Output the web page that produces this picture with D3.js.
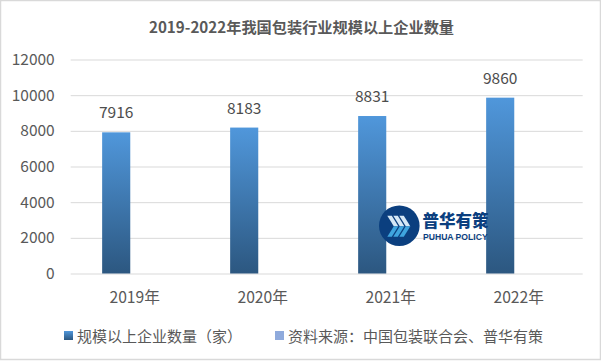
<!DOCTYPE html>
<html>
<head>
<meta charset="utf-8">
<script src="https://cdn.jsdelivr.net/npm/d3@7"></script>
<style>
  html, body { margin: 0; padding: 0; background: #fff; }
  svg { display: block; }
  text { font-family: "Noto Sans CJK SC", "Noto Sans", sans-serif; }
</style>
</head>
<body>
<div id="chart"></div>
<script>
var title = '2019-2022年我国包装行业规模以上企业数量';
var categories = ['2019年', '2020年', '2021年', '2022年'];
var seriesNames = ['规模以上企业数量（家）', '资料来源：中国包装联合会、普华有策'];
var companies = [7916, 8183, 8831, 9860];
var yTicks = [0, 2000, 4000, 6000, 8000, 10000, 12000];

var width = 601, height = 361;
var margin = { top: 59.5, right: 18.3, bottom: 87.5, left: 70.7 };

var svg = d3.select('#chart').append('svg')
  .attr('width', width)
  .attr('height', height);

var defs = svg.append('defs');
var grad = defs.append('linearGradient')
  .attr('id', 'barFill')
  .attr('x1', 0).attr('y1', 0).attr('x2', 0).attr('y2', 1);
grad.append('stop').attr('offset', '0%').attr('stop-color', '#5097db');
grad.append('stop').attr('offset', '100%').attr('stop-color', '#2c5780');

// outer frame
svg.append('rect')
  .attr('x', 0.5).attr('y', 0.5)
  .attr('width', width - 1).attr('height', height - 2)
  .attr('fill', '#fff')
  .attr('stroke', '#d9d9d9')
  .attr('stroke-width', 1.5);

var x = d3.scaleBand()
  .domain(categories)
  .range([margin.left, width - margin.right]);

// second series has no values, it only holds its slot and legend entry
var x1 = d3.scaleBand()
  .domain(seriesNames)
  .range([0, x.bandwidth()])
  .paddingInner(0.24)
  .paddingOuter(0.85);

var y = d3.scaleLinear()
  .domain([0, 12000])
  .range([height - margin.bottom, margin.top]);

svg.append('text')
  .attr('x', 301.5)
  .attr('y', 32.5)
  .attr('text-anchor', 'middle')
  .attr('font-size', 15.2)
  .attr('font-weight', 700)
  .attr('fill', '#595959')
  .text(title);

var yAxis = svg.append('g')
  .attr('transform', 'translate(' + margin.left + ',0)')
  .call(d3.axisLeft(y).tickValues(yTicks).tickFormat(d3.format('d'))
    .tickSize(-(width - margin.left - margin.right)).tickPadding(16));
yAxis.select('.domain').remove();
yAxis.selectAll('line').attr('stroke', '#d9d9d9').attr('stroke-width', 1);
yAxis.selectAll('text')
  .attr('font-size', 15.5)
  .attr('fill', '#595959')
  .style('font-family', '"Noto Sans CJK SC", sans-serif');

var xAxis = svg.append('g')
  .attr('transform', 'translate(0,' + (height - margin.bottom) + ')')
  .call(d3.axisBottom(x).tickSize(0).tickPadding(18));
xAxis.select('.domain').remove();
xAxis.selectAll('text')
  .attr('font-size', 15.7)
  .attr('fill', '#595959')
  .style('font-family', '"Noto Sans CJK SC", sans-serif');

svg.selectAll('.bar')
  .data(companies)
  .enter().append('rect')
  .attr('class', 'bar')
  .attr('x', function (d, i) { return x(categories[i]) + x1(seriesNames[0]); })
  .attr('width', x1.bandwidth())
  .attr('y', function (d) { return y(d); })
  .attr('height', function (d) { return y(0) - y(d); })
  .attr('fill', 'url(#barFill)');

svg.selectAll('.bar-label')
  .data(companies)
  .enter().append('text')
  .attr('class', 'bar-label')
  .attr('text-anchor', 'middle')
  .attr('x', function (d, i) { return x(categories[i]) + x1(seriesNames[0]) + x1.bandwidth() / 2; })
  .attr('y', function (d) { return y(d) - 14; })
  .attr('font-size', 15.5)
  .attr('fill', '#4d4d4d')
  .text(function (d) { return d; });

// legend
var legendX = [64, 275];
var legendFill = ['url(#barFill)', '#8faadc'];
var legend = svg.selectAll('.legend')
  .data(seriesNames)
  .enter().append('g')
  .attr('class', 'legend')
  .attr('transform', function (d, i) { return 'translate(' + legendX[i] + ',331)'; });
legend.append('rect')
  .attr('width', 9).attr('height', 9)
  .attr('fill', function (d, i) { return legendFill[i]; });
legend.append('text')
  .attr('x', 13)
  .attr('y', 11)
  .attr('font-size', 15)
  .attr('fill', '#595959')
  .text(function (d) { return d; });

// watermark logo
var logo = svg.append('g').attr('transform', 'translate(399.3,225.7)');
logo.append('circle').attr('r', 20.3).attr('fill', '#0b3f7f');
[-12, -6, 0].forEach(function (dx) {
  logo.append('path')
    .attr('d', 'M' + dx + ',-10l4.5,0l6.5,10.5l-4.5,0z')
    .attr('fill', '#d5e8f6');
  logo.append('path')
    .attr('d', 'M' + (dx + 6.5) + ',0.5l4.5,0l-6.5,10.5l-4.5,0z')
    .attr('fill', '#3fa5df');
});
svg.append('text')
  .attr('x', 422.5).attr('y', 227)
  .attr('font-size', 16.5)
  .attr('font-weight', 900)
  .attr('fill', '#0b3f7f')
  .text('普华有策');
svg.append('text')
  .attr('x', 423).attr('y', 240)
  .attr('font-size', 8.6)
  .attr('font-weight', 700)
  .attr('fill', '#0b3f7f')
  .style('font-family', '"Liberation Sans", sans-serif')
  .text('PUHUA POLICY');
</script>
</body>
</html>
